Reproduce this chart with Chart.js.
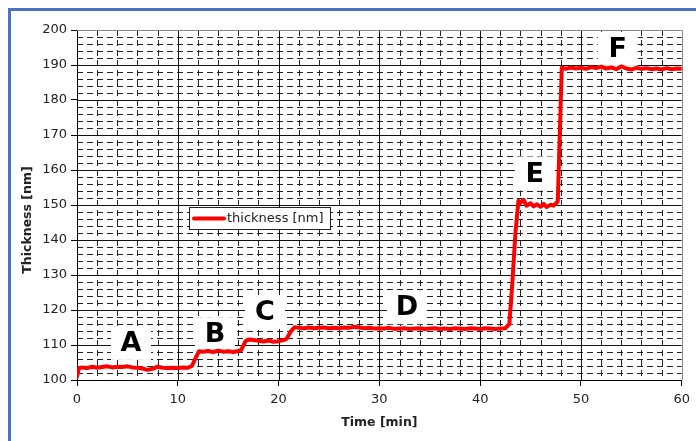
<!DOCTYPE html>
<html>
<head>
<meta charset="utf-8">
<script src="https://cdn.jsdelivr.net/npm/chart.js@4.4.1/dist/chart.umd.min.js"></script>
<style>
  html, body { margin: 0; padding: 0; background: #fff; }
  #wrap { position: relative; width: 696px; height: 441px; overflow: hidden; }
  #frame { position: absolute; left: 8px; top: 8px; width: 720px; height: 470px;
           border-left: 3px solid #4a72c0; border-top: 3px solid #4a72c0; }
  canvas { position: absolute; left: 0; top: 0; }
</style>
</head>
<body>
<div id="wrap">
  <div id="frame"></div>
  <canvas id="chart" width="696" height="441"></canvas>
</div>
<script>
// time in minutes
const times = [
  0, 0.2, 0.5, 1, 1.5, 2, 2.5, 3, 3.5, 4, 4.5, 5, 5.5, 6, 6.5, 7, 7.5, 8, 8.5, 9, 9.5, 10, 10.5, 11,
  11.4, 11.8, 12.1, 12.5, 13, 13.5, 14, 14.5, 15, 15.5, 16, 16.3, 16.7, 17, 17.5, 18, 18.5, 19, 19.5,
  20, 20.5, 20.8, 21.2, 21.6, 22, 22.5, 23, 23.5, 24, 24.5, 25, 25.5, 26, 26.5, 27, 27.5, 28, 28.5,
  29, 29.5, 30, 30.5, 31, 31.5, 32, 32.5, 33, 33.5, 34, 34.5, 35, 35.5, 36, 36.5, 37, 37.5, 38, 38.5,
  39, 39.5, 40, 40.5, 41, 41.5, 42, 42.5, 42.9, 43.2, 43.5, 43.8, 44, 44.3, 44.6, 45, 45.3, 45.6, 46,
  46.3, 46.6, 47, 47.3, 47.7, 47.9, 48.1, 48.5, 49, 49.5, 50, 50.5, 51, 51.5, 52, 52.5, 53, 53.5, 54,
  54.5, 55, 55.5, 56, 56.5, 57, 57.5, 58, 58.5, 59, 59.5, 60
];
// thickness in nm
const thickness = [
  101, 103.4, 103.6, 103.4, 103.8, 103.5, 103.7, 103.9, 103.6, 103.8, 103.7, 103.9, 103.6, 103.5, 103.3, 102.9, 103.2, 103.8, 103.5, 103.4, 103.5, 103.4, 103.6, 103.5,
  104, 106.5, 108.2, 108.1, 108.3, 108, 108.4, 108.1, 108.2, 108, 108.3, 108.6, 111, 111.6, 111.4, 111.2, 111, 111.3, 110.9,
  111.1, 111.4, 111.8, 113.8, 115.1, 114.9, 114.8, 115, 114.8, 114.9, 115, 114.8, 114.9, 114.8, 115, 114.9, 115.2, 115, 114.8,
  114.9, 114.7, 114.8, 114.7, 114.9, 114.6, 114.7, 114.8, 114.6, 114.7, 114.8, 114.6, 114.7, 114.8, 114.6, 114.7, 114.6, 114.8, 114.7, 114.6,
  114.8, 114.7, 114.6, 114.8, 114.7, 114.6, 114.7, 114.8, 116, 128, 142, 151.2, 150.6, 151.5, 149.8, 150.5, 149.6, 150.2, 149.5,
  150.3, 149.4, 150.1, 149.8, 151, 170, 189.3, 188.9, 189.3, 189, 189.2, 188.9, 189.4, 189.1, 189.5, 189, 189.3, 188.8, 189.6,
  189, 188.7, 189.2, 188.9, 189.1, 188.8, 189, 188.7, 189.1, 188.8, 189, 188.9
];
// stage letters
const stageNames = ['A', 'B', 'C', 'D', 'E', 'F'];
const stageTimes = [5.36, 13.69, 18.65, 32.73, 45.42, 53.65];
const stageValues = [110.6, 113.1, 119.4, 120.8, 159.0, 194.6];

const seriesName = 'thickness [nm]';

const gridPlugin = {
  id: 'grid',
  beforeDatasetsDraw(chart) {
    const { ctx, chartArea: a, scales: { x, y } } = chart;
    ctx.save();
    ctx.lineWidth = 1;
    // minor dashed
    ctx.strokeStyle = '#222';
    ctx.setLineDash([6, 4]);
    for (let v = 0; v <= 60; v += 2) {
      if (v % 10 === 0) continue;
      const px = Math.round(x.getPixelForValue(v)) + 0.5;
      ctx.beginPath(); ctx.moveTo(px, a.top); ctx.lineTo(px, a.bottom); ctx.stroke();
    }
    for (let v = 100; v <= 200; v += 2) {
      if (v % 10 === 0) continue;
      const py = Math.round(y.getPixelForValue(v)) + 0.5;
      ctx.beginPath(); ctx.moveTo(a.left, py); ctx.lineTo(a.right, py); ctx.stroke();
    }
    // major solid
    ctx.setLineDash([]);
    ctx.strokeStyle = '#111';
    for (let v = 10; v < 60; v += 10) {
      const px = Math.round(x.getPixelForValue(v)) + 0.5;
      ctx.beginPath(); ctx.moveTo(px, a.top); ctx.lineTo(px, a.bottom); ctx.stroke();
    }
    for (let v = 110; v < 200; v += 10) {
      const py = Math.round(y.getPixelForValue(v)) + 0.5;
      ctx.beginPath(); ctx.moveTo(a.left, py); ctx.lineTo(a.right, py); ctx.stroke();
    }
    // top / right border
    ctx.strokeStyle = '#888';
    ctx.beginPath();
    ctx.moveTo(a.left, Math.round(a.top) + 0.5);
    ctx.lineTo(Math.round(a.right) + 0.5, Math.round(a.top) + 0.5);
    ctx.lineTo(Math.round(a.right) + 0.5, a.bottom);
    ctx.stroke();

    // white boxes behind stage letters
    ctx.fillStyle = '#fff';
    stageNames.forEach((s, i) => {
      const px = x.getPixelForValue(stageTimes[i]);
      const py = y.getPixelForValue(stageValues[i]);
      ctx.fillRect(px - 20, py - 17, 40, 34);
    });
    ctx.restore();
  },
  afterDatasetsDraw(chart) {
    const { ctx, chartArea: a, scales: { x, y } } = chart;
    ctx.save();
    ctx.fillStyle = '#000';
    ctx.font = 'bold 27px "DejaVu Sans"';
    ctx.textAlign = 'center';
    ctx.textBaseline = 'middle';
    stageNames.forEach((s, i) => {
      ctx.fillText(s, x.getPixelForValue(stageTimes[i]), y.getPixelForValue(stageValues[i]) + 1);
    });

    // legend box
    const lx = a.left + 112, ly = a.top + 177;
    ctx.fillStyle = '#fff';
    ctx.fillRect(lx, ly, 141, 22);
    ctx.strokeStyle = '#222';
    ctx.lineWidth = 1;
    ctx.strokeRect(lx + 0.5, ly + 0.5, 141, 22);
    ctx.strokeStyle = '#ff0000';
    ctx.lineWidth = 4;
    ctx.lineCap = 'round';
    ctx.beginPath(); ctx.moveTo(lx + 5, ly + 11.5); ctx.lineTo(lx + 35, ly + 11.5); ctx.stroke();
    ctx.fillStyle = '#222';
    ctx.font = '13px "DejaVu Sans"';
    ctx.textAlign = 'left';
    ctx.fillText(seriesName, lx + 38, ly + 12);

    // y axis title
    ctx.font = 'bold 12.5px "DejaVu Sans"';
    ctx.textAlign = 'center';
    ctx.translate(28, 220);
    ctx.rotate(-Math.PI / 2);
    ctx.fillText('Thickness [nm]', 0, 0);
    ctx.restore();
  }
};

new Chart(document.getElementById('chart'), {
  type: 'line',
  data: {
    datasets: [{
      label: seriesName,
      data: times.map((t, i) => ({ x: t, y: thickness[i] })),
      borderColor: '#ff0000',
      borderWidth: 4,
      pointRadius: 0,
      tension: 0,
      borderJoinStyle: 'round',
      borderCapStyle: 'round'
    }]
  },
  options: {
    responsive: false,
    animation: false,
    layout: { padding: { left: 0, right: 14, top: 30, bottom: 0 } },
    plugins: { legend: { display: false }, tooltip: { enabled: false } },
    scales: {
      x: {
        type: 'linear',
        min: 0, max: 60,
        afterFit(scale) { scale.height = 61; },
        ticks: { stepSize: 10, color: '#222', font: { family: 'DejaVu Sans', size: 13 }, padding: 6, maxRotation: 0 },
        grid: { drawOnChartArea: false, tickLength: 6, color: '#000' },
        border: { color: '#000', width: 1 },
        title: { display: true, text: 'Time [min]', color: '#222',
                 font: { family: 'DejaVu Sans', size: 12.5, weight: 'bold' }, padding: { top: 0, bottom: 11 } }
      },
      y: {
        min: 100, max: 200,
        afterFit(scale) { scale.width = 77; },
        ticks: { stepSize: 10, color: '#222', font: { family: 'DejaVu Sans', size: 13 }, padding: 4 },
        grid: { drawOnChartArea: false, tickLength: 6, color: '#000' },
        border: { color: '#000', width: 1 }
      }
    }
  },
  plugins: [gridPlugin]
});
</script>
</body>
</html>
